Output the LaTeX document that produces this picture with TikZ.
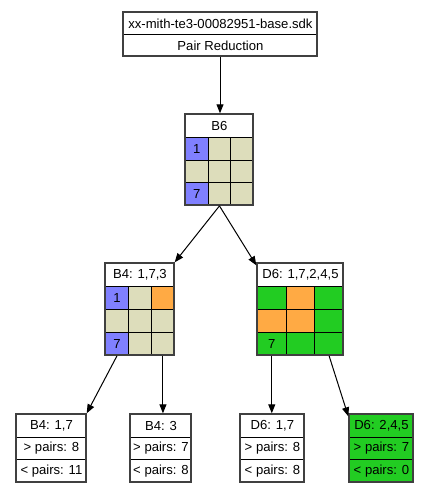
\documentclass[tikz,border=0pt]{standalone}
\usepackage{fontspec}
\setmainfont{Liberation Sans}
\usetikzlibrary{arrows.meta}
\definecolor{cblue}{RGB}{128,128,255}
\definecolor{cbeige}{RGB}{221,221,187}
\definecolor{corange}{RGB}{255,170,68}
\definecolor{cgreen}{RGB}{34,204,34}
\newcommand{\gcell}[7]{\node[cell, fill=#6, minimum width=#4pt, minimum height=#5pt, anchor=north west] (#1) at (#2,#3) {#7};}
\begin{document}
\begin{tikzpicture}[x=1pt,y=-1pt, font=\fontsize{13.1}{15}\selectfont,
  frame/.style={draw=black!75, line width=1.4pt, inner sep=0},
  cell/.style={draw=black, line width=0.9pt, inner sep=0},
  arr/.style={-{Triangle[length=9pt,width=7pt]}, line width=1pt, draw=black}]
\useasboundingbox (0,0) rectangle (429,492);
\fill[white] (0,0) rectangle (429,492);

% top node
\gcell{top-1}{123}{12}{194}{22}{white}{xx-mith-te3-00082951-base.sdk}
\gcell{top-2}{123}{34}{194}{22}{white}{Pair Reduction}
\node[frame, minimum width=194pt, minimum height=44pt] (top) at (220,34) {};

% B6
\gcell{b6-h}{185}{114}{68}{23}{white}{B6}
\gcell{b6-11}{185}{137}{22.67}{22.67}{cblue}{1}
\gcell{b6-12}{207.67}{137}{22.67}{22.67}{cbeige}{}
\gcell{b6-13}{230.33}{137}{22.67}{22.67}{cbeige}{}
\gcell{b6-21}{185}{159.67}{22.67}{22.67}{cbeige}{}
\gcell{b6-22}{207.67}{159.67}{22.67}{22.67}{cbeige}{}
\gcell{b6-23}{230.33}{159.67}{22.67}{22.67}{cbeige}{}
\gcell{b6-31}{185}{182.33}{22.67}{22.67}{cblue}{7}
\gcell{b6-32}{207.67}{182.33}{22.67}{22.67}{cbeige}{}
\gcell{b6-33}{230.33}{182.33}{22.67}{22.67}{cbeige}{}
\node[frame, minimum width=68pt, minimum height=91pt] (b6) at (219,159.5) {};

% B4: 1,7,3
\gcell{b4-h}{105}{263}{69}{23}{white}{B4: 1,7,3}
\gcell{b4-11}{105}{286}{23}{23}{cblue}{1}
\gcell{b4-12}{128}{286}{23}{23}{cbeige}{}
\gcell{b4-13}{151}{286}{23}{23}{corange}{}
\gcell{b4-21}{105}{309}{23}{23}{cbeige}{}
\gcell{b4-22}{128}{309}{23}{23}{cbeige}{}
\gcell{b4-23}{151}{309}{23}{23}{cbeige}{}
\gcell{b4-31}{105}{332}{23}{23}{cblue}{7}
\gcell{b4-32}{128}{332}{23}{23}{cbeige}{}
\gcell{b4-33}{151}{332}{23}{23}{cbeige}{}
\node[frame, minimum width=69pt, minimum height=92pt] (b4) at (139.5,309) {};

% D6: 1,7,2,4,5
\gcell{d6-h}{257}{263}{86}{23}{white}{D6: 1,7,2,4,5}
\gcell{d6-11}{257}{286}{28.67}{23}{cgreen}{}
\gcell{d6-12}{285.67}{286}{28.67}{23}{corange}{}
\gcell{d6-13}{314.33}{286}{28.67}{23}{cgreen}{}
\gcell{d6-21}{257}{309}{28.67}{23}{corange}{}
\gcell{d6-22}{285.67}{309}{28.67}{23}{corange}{}
\gcell{d6-23}{314.33}{309}{28.67}{23}{cgreen}{}
\gcell{d6-31}{257}{332}{28.67}{23}{cgreen}{7}
\gcell{d6-32}{285.67}{332}{28.67}{23}{cgreen}{}
\gcell{d6-33}{314.33}{332}{28.67}{23}{cgreen}{}
\node[frame, minimum width=86pt, minimum height=92pt] (d6) at (300,309) {};

% bottom nodes
\gcell{n1-1}{16}{414}{70}{22.67}{white}{B4: 1,7}
\gcell{n1-2}{16}{436.67}{70}{22.67}{white}{> pairs: 8}
\gcell{n1-3}{16}{459.33}{70}{22.67}{white}{< pairs: 11}
\node[frame, minimum width=70pt, minimum height=68pt] (n1) at (51,448) {};

\gcell{n2-1}{130}{414}{61}{22.67}{white}{B4: 3}
\gcell{n2-2}{130}{436.67}{61}{22.67}{white}{> pairs: 7}
\gcell{n2-3}{130}{459.33}{61}{22.67}{white}{< pairs: 8}
\node[frame, minimum width=61pt, minimum height=68pt] (n2) at (160.5,448) {};

\gcell{n3-1}{240}{414}{64}{22.67}{white}{D6: 1,7}
\gcell{n3-2}{240}{436.67}{64}{22.67}{white}{> pairs: 8}
\gcell{n3-3}{240}{459.33}{64}{22.67}{white}{< pairs: 8}
\node[frame, minimum width=64pt, minimum height=68pt] (n3) at (272,448) {};

\gcell{n4-1}{349}{414}{64}{22.67}{cgreen}{D6: 2,4,5}
\gcell{n4-2}{349}{436.67}{64}{22.67}{cgreen}{> pairs: 7}
\gcell{n4-3}{349}{459.33}{64}{22.67}{cgreen}{< pairs: 0}
\node[frame, minimum width=64pt, minimum height=68pt] (n4) at (381,448) {};

% edges
\draw[arr] (top.south) -- (top.south |- b6.north);
\draw[arr] (b6-32.south) -- (b4.north east);
\draw[arr] (b6-32.south) -- ([yshift=-3pt]d6.north west);
\draw[arr] (b4-31.south) -- (n1.north east);
\draw[arr] (b4-33.south) -- (b4-33.south |- n2.north);
\draw[arr] (d6-31.south) -- (d6-31.south |- n3.north);
\draw[arr] (d6-33.south) -- ([yshift=-3pt]n4.north west);
\end{tikzpicture}
\end{document}
